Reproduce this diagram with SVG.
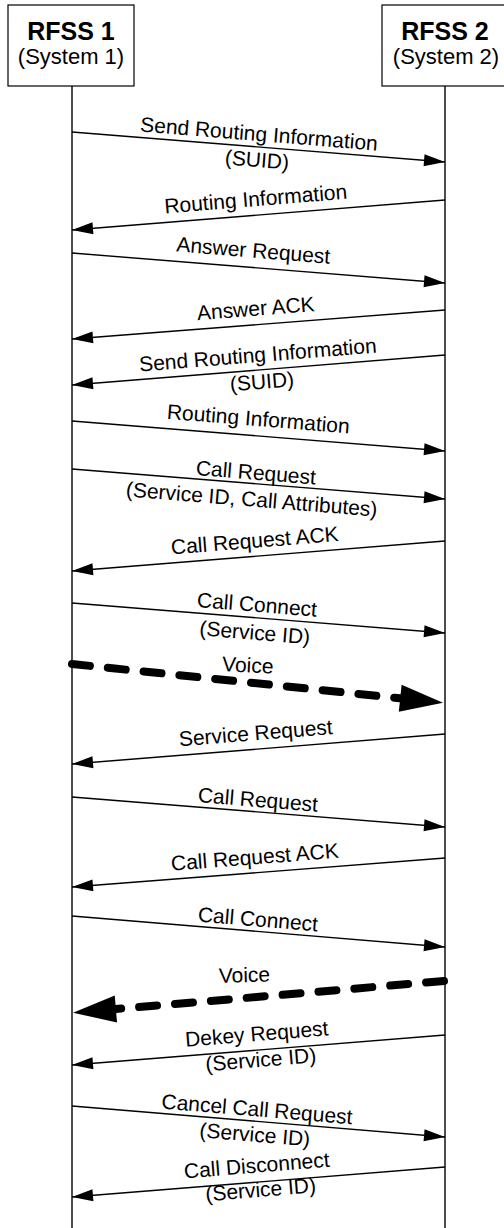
<svg xmlns="http://www.w3.org/2000/svg" width="504" height="1228" viewBox="0 0 504 1228">
  <style>
    .box { fill: #fff; stroke: #000; stroke-width: 1.2; }
    .life { stroke: #000; stroke-width: 1.4; fill: none; }
    .title { font-family: "Liberation Sans", Arial, sans-serif; font-size: 25px; font-weight: bold; text-anchor: middle; fill: #000; }
    .sub { font-family: "Liberation Sans", Arial, sans-serif; font-size: 22px; text-anchor: middle; fill: #000; }
    .msg { stroke: #000; stroke-width: 1.4; fill: none; marker-end: url(#head); }
    .voice { stroke: #000; stroke-width: 8; fill: none; stroke-linecap: round; stroke-dasharray: 18 18; marker-end: url(#bighead); }
    .lbl { font-family: "Liberation Sans", Arial, sans-serif; font-size: 21px; text-anchor: middle; fill: #000; }
  </style>
  <defs>
    <marker id="head" markerUnits="userSpaceOnUse" markerWidth="22" markerHeight="13" refX="21" refY="6" orient="auto" overflow="visible">
      <path d="M0,0 L21,6 L0,12 z" fill="#000"/>
    </marker>
    <marker id="bighead" markerUnits="userSpaceOnUse" markerWidth="44" markerHeight="28" refX="0" refY="13.5" orient="auto" overflow="visible">
      <path d="M-3,0 L40,13.5 L-3,27 z" fill="#000"/>
    </marker>
  </defs>

  <rect width="504" height="1228" fill="#fff"/>

  <!-- participants -->
  <g id="rfss1">
    <rect class="box" x="8" y="5" width="126" height="81"/>
    <text class="title" x="71" y="40">RFSS 1</text>
    <text class="sub" x="71" y="64">(System 1)</text>
    <line class="life" x1="72" y1="86" x2="72" y2="1228"/>
  </g>
  <g id="rfss2">
    <rect class="box" x="382" y="5" width="126" height="81"/>
    <text class="title" x="445" y="40">RFSS 2</text>
    <text class="sub" x="446" y="64">(System 2)</text>
    <line class="life" x1="445" y1="86" x2="445" y2="1228"/>
  </g>

  <!-- message arrows -->
  <g id="connectors">
    <line class="msg" x1="72" y1="132" x2="445" y2="162"/>
    <line class="msg" x1="445" y1="200" x2="72" y2="230"/>
    <line class="msg" x1="72" y1="253" x2="445" y2="283"/>
    <line class="msg" x1="445" y1="310" x2="72" y2="339"/>
    <line class="msg" x1="445" y1="355" x2="72" y2="385"/>
    <line class="msg" x1="72" y1="421" x2="445" y2="451"/>
    <line class="msg" x1="72" y1="469" x2="445" y2="499"/>
    <line class="msg" x1="445" y1="541" x2="72" y2="571"/>
    <line class="msg" x1="72" y1="603" x2="445" y2="633"/>
    <line class="voice" x1="72" y1="664" x2="403.2" y2="698.6"/>
    <line class="msg" x1="445" y1="734" x2="72" y2="764"/>
    <line class="msg" x1="72" y1="797" x2="445" y2="827"/>
    <line class="msg" x1="445" y1="858" x2="72" y2="887"/>
    <line class="msg" x1="72" y1="916" x2="445" y2="947"/>
    <line class="voice" x1="444" y1="981" x2="112.9" y2="1009.3"/>
    <line class="msg" x1="445" y1="1035" x2="72" y2="1065"/>
    <line class="msg" x1="72" y1="1106" x2="445" y2="1137"/>
    <line class="msg" x1="445" y1="1167" x2="72" y2="1197"/>
  </g>

  <!-- message labels -->
  <g id="labels">
    <g id="m1" transform="translate(258,147) rotate(4.6)">
      <text class="lbl" y="-6">Send Routing Information</text>
      <text class="lbl" y="20">(SUID)</text>
    </g>
    <g id="m2" transform="translate(257,215) rotate(-4.6)">
      <text class="lbl" y="-9">Routing Information</text>
    </g>
    <g id="m3" transform="translate(252,267.5) rotate(4.6)">
      <text class="lbl" y="-10">Answer Request</text>
    </g>
    <g id="m4" transform="translate(257,324.6) rotate(-4.44)">
      <text class="lbl" y="-9">Answer ACK</text>
    </g>
    <g id="m5" transform="translate(259,370) rotate(-4.6)">
      <text class="lbl" y="-8">Send Routing Information</text>
      <text class="lbl" x="2" y="19">(SUID)</text>
    </g>
    <g id="m6" transform="translate(257,436) rotate(4.6)">
      <text class="lbl" y="-10">Routing Information</text>
    </g>
    <g id="m7" transform="translate(255,483.7) rotate(4.6)">
      <text class="lbl" y="-4">Call Request</text>
      <text class="lbl" x="-2" y="23">(Service ID, Call Attributes)</text>
    </g>
    <g id="m8" transform="translate(256,556.2) rotate(-4.6)">
      <text class="lbl" y="-8.5">Call Request ACK</text>
    </g>
    <g id="m9" transform="translate(256,617.8) rotate(4.6)">
      <text class="lbl" y="-6">Call Connect</text>
      <text class="lbl" y="22">(Service ID)</text>
    </g>
    <g id="m10" transform="translate(247,682.3) rotate(3)">
      <text class="lbl" y="-10">Voice</text>
    </g>
    <g id="m11" transform="translate(257,749.1) rotate(-4.6)">
      <text class="lbl" y="-9">Service Request</text>
    </g>
    <g id="m12" transform="translate(257,811.9) rotate(4.6)">
      <text class="lbl" y="-5">Call Request</text>
    </g>
    <g id="m13" transform="translate(256,872.7) rotate(-4.44)">
      <text class="lbl" y="-8.5">Call Request ACK</text>
    </g>
    <g id="m14" transform="translate(257,931.4) rotate(4.75)">
      <text class="lbl" y="-5">Call Connect</text>
    </g>
    <g id="m15" transform="translate(245,998.2) rotate(-1.5)">
      <text class="lbl" y="-16">Voice</text>
    </g>
    <g id="m16" transform="translate(258,1050) rotate(-4.6)">
      <text class="lbl" y="-9">Dekey Request</text>
      <text class="lbl" x="2" y="17">(Service ID)</text>
    </g>
    <g id="m17" transform="translate(256,1121.3) rotate(4.75)">
      <text class="lbl" y="-5">Cancel Call Request</text>
      <text class="lbl" y="20.5">(Service ID)</text>
    </g>
    <g id="m18" transform="translate(258,1182) rotate(-4.6)">
      <text class="lbl" y="-9.5">Call Disconnect</text>
      <text class="lbl" x="2" y="15">(Service ID)</text>
    </g>
  </g>
</svg>
